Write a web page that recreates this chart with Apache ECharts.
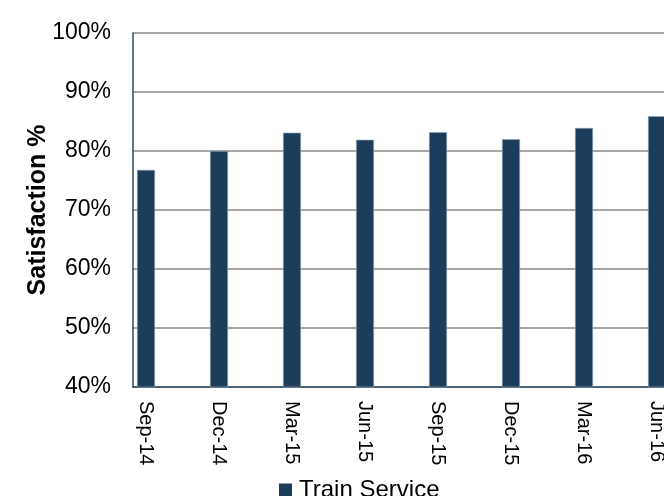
<!DOCTYPE html>
<html>
<head>
<meta charset="utf-8">
<script src="https://cdn.jsdelivr.net/npm/echarts@6/dist/echarts.min.js"></script>
<style>
html,body{margin:0;padding:0;background:#fff;}
#chart{width:664px;height:496px;}
</style>
</head>
<body>
<div id="chart"></div>
<script>
const categories = ['Sep-14','Dec-14','Mar-15','Jun-15','Sep-15','Dec-15','Mar-16','Jun-16'];
const trainService = [76.8, 80.0, 83.1, 81.9, 83.2, 82.0, 83.9, 85.9];
const yTicks = { min: 40, max: 100, step: 10 };
const seriesName = 'Train Service';
const yTitle = 'Satisfaction %';

const FONT = 'Liberation Sans, Arial, sans-serif';
const chart = echarts.init(document.getElementById('chart'), null, {renderer: 'canvas'});

chart.setOption({
  animation: false,
  backgroundColor: '#ffffff',
  grid: [
    { left: 133, width: 600, top: 33, bottom: 109, containLabel: false, outerBoundsMode: 'none' },
    { left: 109.5, width: 584, top: 33, bottom: 109, containLabel: false, outerBoundsMode: 'none' }
  ],
  legend: {
    data: [seriesName],
    left: 274, top: 473,
    icon: 'rect', itemWidth: 13, itemHeight: 13, itemGap: 5,
    itemStyle: { borderWidth: 0 },
    textStyle: { fontFamily: FONT, fontSize: 24, color: '#000', padding: [0, 0, 0, 2] }
  },
  xAxis: [
    {
      type: 'category', gridIndex: 0, data: categories,
      axisLine: { show: true, lineStyle: { color: '#2d4a63', width: 1.5 } },
      axisTick: { show: false }, axisLabel: { show: false }, splitLine: { show: false }
    },
    {
      type: 'category', gridIndex: 1, data: categories,
      axisLine: { show: false }, axisTick: { show: false },
      axisLabel: {
        interval: 0, rotate: -90, margin: 14,
        fontFamily: FONT, fontSize: 20, color: '#000'
      }
    }
  ],
  yAxis: [
    {
      type: 'value', gridIndex: 0, min: yTicks.min, max: yTicks.max, interval: yTicks.step,
      name: yTitle, nameLocation: 'middle', nameRotate: 90, nameGap: 82, nameMoveOverlap: false,
      nameTextStyle: { fontFamily: FONT, fontSize: 25, fontWeight: 'bold', color: '#000' },
      axisLine: { show: true, lineStyle: { color: '#2d4a63', width: 1.5 } },
      axisTick: { show: false },
      axisLabel: { formatter: '{value}%', margin: 22, fontFamily: FONT, fontSize: 23, color: '#000' },
      splitLine: { show: true, lineStyle: { color: '#8a8a8a', width: 1.5 } }
    },
    {
      type: 'value', gridIndex: 1, min: yTicks.min, max: yTicks.max, interval: yTicks.step,
      show: false, splitLine: { show: false }
    }
  ],
  series: [
    {
      name: seriesName, type: 'bar', xAxisIndex: 1, yAxisIndex: 1,
      data: trainService, barWidth: 18,
      itemStyle: { color: '#1c3d59', borderColor: '#9aaaba', borderWidth: 0.6 }
    }
  ]
});
</script>
</body>
</html>
